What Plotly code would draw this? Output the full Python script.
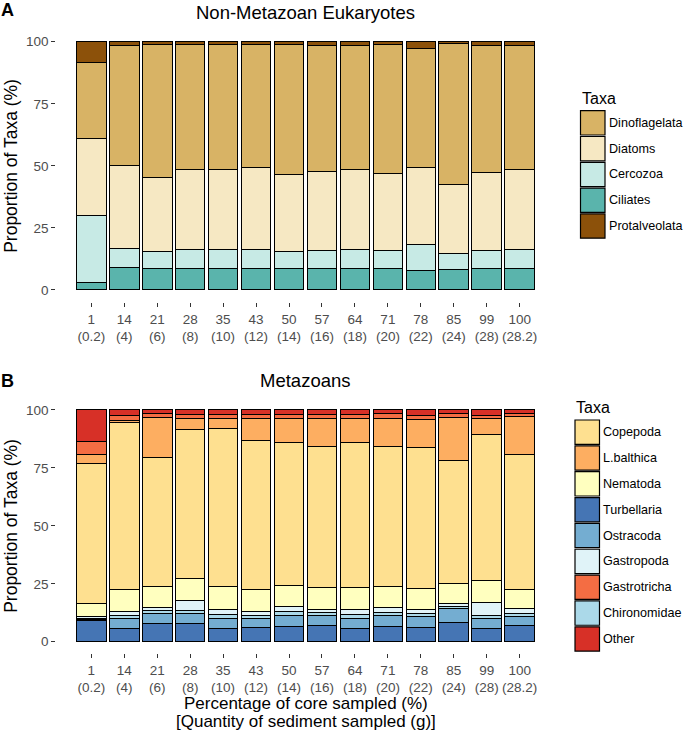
import plotly.graph_objects as go

W, H = 685, 732

# ---------------- data ----------------
sample_pct = ["1", "14", "21", "28", "35", "43", "50", "57", "64", "71", "78", "85", "99", "100"]
sediment_g = ["0.2", "4", "6", "8", "10", "12", "14", "16", "18", "20", "22", "24", "28", "28.2"]
tick_labels = [f"{p}<br>({g})" for p, g in zip(sample_pct, sediment_g)]
positions = list(range(1, len(sample_pct) + 1))

# Panel A: non-metazoan eukaryotes (stack order bottom -> top)
ciliates      = [3.1, 9.0, 8.5, 8.7, 8.7, 8.7, 8.6, 8.6, 8.7, 8.6, 7.7, 8.2, 8.7, 8.7]
cercozoa      = [26.8, 7.6, 7.1, 7.7, 7.7, 7.7, 7.1, 7.4, 7.7, 7.4, 10.7, 6.6, 7.4, 7.5]
diatoms       = [31.0, 33.6, 29.8, 32.1, 32.3, 33.0, 30.7, 31.9, 32.2, 31.0, 31.1, 27.5, 31.1, 32.3]
dinoflagelata = [30.9, 48.3, 53.4, 50.2, 50.0, 49.3, 52.3, 50.6, 49.9, 51.7, 47.9, 56.8, 51.3, 50.0]
protalveolata = [8.2, 1.5, 1.2, 1.3, 1.3, 1.3, 1.3, 1.5, 1.5, 1.3, 2.6, 0.9, 1.5, 1.5]

# Panel B: metazoans (stack order bottom -> top)
turbellaria  = [9.1, 5.6, 7.9, 7.9, 5.6, 6.2, 6.5, 7.1, 5.9, 6.5, 6.2, 8.4, 5.8, 6.8]
ostracoda    = [0.5, 4.6, 4.3, 4.3, 4.6, 4.0, 4.9, 4.3, 4.3, 4.9, 4.6, 6.1, 4.4, 4.0]
chironomidae = [0.5, 0.9, 1.1, 1.4, 1.4, 1.1, 1.5, 1.0, 1.4, 1.2, 1.2, 0.9, 1.3, 1.2]
gastropoda   = [0.7, 1.9, 1.3, 4.0, 2.5, 1.7, 2.2, 1.6, 2.5, 2.1, 2.1, 1.0, 5.3, 2.2]
nematoda     = [5.7, 9.7, 9.1, 9.5, 9.6, 9.7, 9.2, 9.2, 9.4, 9.0, 8.8, 8.8, 9.5, 8.5]
copepoda     = [60.2, 72.0, 55.9, 64.3, 68.1, 64.1, 61.6, 61.2, 62.6, 60.5, 60.7, 53.2, 63.2, 58.3]
lbalthica    = [4.0, 0.9, 17.2, 5.0, 4.4, 9.6, 10.5, 12.0, 10.3, 12.3, 12.4, 18.2, 6.7, 16.0]
gastrotricha = [5.8, 2.0, 1.6, 1.8, 1.8, 1.8, 1.8, 1.7, 1.7, 1.8, 1.8, 1.8, 1.4, 1.6]
other        = [13.5, 2.4, 1.6, 1.8, 2.0, 1.8, 1.8, 1.9, 1.9, 1.7, 2.2, 1.6, 2.4, 1.4]

y_ticks = [0, 25, 50, 75, 100]

# ---------------- styles ----------------
colors_a = {
    "Dinoflagelata": "#d8b365",
    "Diatoms": "#f6e8c3",
    "Cercozoa": "#c7eae5",
    "Ciliates": "#5ab4ac",
    "Protalveolata": "#8c510a",
}
colors_b = {
    "Copepoda": "#fee090",
    "L.balthica": "#fdae61",
    "Nematoda": "#ffffbf",
    "Turbellaria": "#4575b4",
    "Ostracoda": "#74add1",
    "Gastropoda": "#e0f3f8",
    "Gastrotricha": "#f46d43",
    "Chironomidae": "#abd9e9",
    "Other": "#d73027",
}
legend_a = ["Dinoflagelata", "Diatoms", "Cercozoa", "Ciliates", "Protalveolata"]
legend_b = ["Copepoda", "L.balthica", "Nematoda", "Turbellaria", "Ostracoda",
            "Gastropoda", "Gastrotricha", "Chironomidae", "Other"]

stack_a = [("Ciliates", ciliates), ("Cercozoa", cercozoa), ("Diatoms", diatoms),
           ("Dinoflagelata", dinoflagelata), ("Protalveolata", protalveolata)]
stack_b = [("Turbellaria", turbellaria), ("Ostracoda", ostracoda), ("Chironomidae", chironomidae),
           ("Gastropoda", gastropoda), ("Nematoda", nematoda), ("Copepoda", copepoda),
           ("L.balthica", lbalthica), ("Gastrotricha", gastrotricha), ("Other", other)]

FONT = "Liberation Sans, Arial, Helvetica, sans-serif"


def px_x(x):
    return x / W


def px_y(y):
    return 1 - y / H


fig = go.Figure()
for name, vals in stack_a:
    fig.add_trace(go.Bar(x=positions, y=vals, name=name, width=0.9,
                         marker=dict(color=colors_a[name], line=dict(color="black", width=1)),
                         xaxis="x", yaxis="y", showlegend=False))
for name, vals in stack_b:
    fig.add_trace(go.Bar(x=positions, y=vals, name=name, width=0.9,
                         marker=dict(color=colors_b[name], line=dict(color="black", width=1)),
                         xaxis="x2", yaxis="y2", showlegend=False))

# panel geometry (pixels)
PX_L, PX_R = 56.3, 554.7
A_TOP, A_BOT = 29.3, 302.4
B_TOP, B_BOT = 398.4, 653.3
x_domain = [px_x(PX_L), px_x(PX_R)]
x_range = [-0.062, 15.062]

axis_common = dict(showgrid=False, zeroline=False, showline=False, ticks="outside",
                   ticklen=4, tickwidth=1, tickcolor="#333333",
                   tickfont=dict(family=FONT, size=13.5, color="#4d4d4d"))

fig.update_layout(
    width=W, height=H,
    margin=dict(l=0, r=0, t=0, b=0),
    paper_bgcolor="white", plot_bgcolor="white",
    barmode="stack",
    font=dict(family=FONT, color="black"),
    xaxis=dict(domain=x_domain, range=x_range, tickvals=positions, ticktext=tick_labels,
               anchor="y", **axis_common),
    yaxis=dict(domain=[px_y(A_BOT), px_y(A_TOP)], range=[-5, 105], tickvals=y_ticks,
               anchor="x", **axis_common),
    xaxis2=dict(domain=x_domain, range=x_range, tickvals=positions, ticktext=tick_labels,
                anchor="y2", **axis_common),
    yaxis2=dict(domain=[px_y(B_BOT), px_y(B_TOP)], range=[-5, 105], tickvals=y_ticks,
                anchor="x2", **axis_common),
)

annotations = []
shapes = []


def text(x, y, s, size, bold=False, xanchor="center", angle=0, color="black"):
    annotations.append(dict(
        x=px_x(x), y=px_y(y), xref="paper", yref="paper", text=f"<b>{s}</b>" if bold else s,
        showarrow=False, xanchor=xanchor, yanchor="middle", textangle=angle, borderpad=0,
        font=dict(family=FONT, size=size, color=color)))


mid_x = (PX_L + PX_R) / 2
text(8, 10, "A", 18, bold=True)
text(8, 381, "B", 18, bold=True)
text(mid_x, 12, "Non-Metazoan Eukaryotes", 18.5)
text(mid_x, 380, "Metazoans", 18.5)
text(11, (A_TOP + A_BOT) / 2, "Proportion of Taxa (%)", 17.5, angle=-90)
text(11, (B_TOP + B_BOT) / 2, "Proportion of Taxa (%)", 17.5, angle=-90)
text(mid_x, 703, "Percentage of core sampled (%)", 17)
text(mid_x, 721.5, "[Quantity of sediment sampled (g)]", 17)


def legend(names, cmap, x_key, y_title, y_first, pitch=25.8, key_w=24.5, key_h=24.3):
    text(x_key, y_title, "Taxa", 16, xanchor="left")
    for i, n in enumerate(names):
        top = y_first + i * pitch
        shapes.append(dict(type="rect", xref="paper", yref="paper",
                           x0=px_x(x_key), x1=px_x(x_key + key_w),
                           y0=px_y(top + key_h), y1=px_y(top),
                           fillcolor=cmap[n], line=dict(color="black", width=1.2)))
        text(x_key + key_w + 2.5, top + key_h / 2, n, 12.6, xanchor="left")


legend(legend_a, colors_a, 580.5, 98, 110.7)
legend(legend_b, colors_b, 575.0, 407, 420.0, pitch=25.85)

fig.update_layout(annotations=annotations, shapes=shapes)
fig.write_html("out.html", config={"displayModeBar": False},
               post_script="document.body.style.margin='0px';document.body.style.overflow='hidden';")
